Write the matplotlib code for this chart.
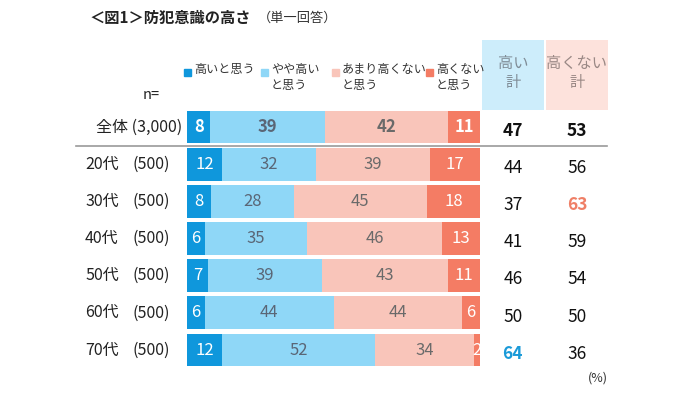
import matplotlib
matplotlib.use('Agg')
import matplotlib.pyplot as plt
from matplotlib.patches import Rectangle

plt.rcParams['font.family'] = ['Noto Sans CJK JP', 'DejaVu Sans']

groups = ['全体', '20代', '30代', '40代', '50代', '60代', '70代']
sizes = ['(3,000)', '(500)', '(500)', '(500)', '(500)', '(500)', '(500)']
very_high = [8, 12, 8, 6, 7, 6, 12]
rather_high = [39, 32, 28, 35, 39, 44, 52]
not_very_high = [42, 39, 45, 46, 43, 44, 34]
not_high = [11, 17, 18, 13, 11, 6, 2]
high_total = [47, 44, 37, 41, 46, 50, 64]
not_high_total = [53, 56, 63, 59, 54, 50, 36]
legend_labels = ['高いと思う', 'やや高い\nと思う', 'あまり高くない\nと思う', '高くない\nと思う']

colors = ['#0f97dc', '#8fd7f7', '#f9c5ba', '#f47c64']
text_colors = ['white', '#5a6676', '#6a6a6a', 'white']

fig = plt.figure(figsize=(7, 3.93), dpi=100)
ax = fig.add_axes([187 / 700, 1 - 368.6 / 393, 293 / 700, 260.2 / 393])
ax.set_xlim(0, 100)
ax.set_ylim(6.5, -0.5)
ax.axis('off')

series = [very_high, rather_high, not_very_high, not_high]
for i in range(len(groups)):
    total = sum(s[i] for s in series)
    left = 0
    for k, s in enumerate(series):
        w = s[i] * 100 / total
        bar = ax.barh(i, w, left=left, height=0.88, color=colors[k])[0]
        t = ax.text(left + w / 2, i, str(s[i]), ha='center', va='center',
                    fontsize=12, color=text_colors[k],
                    fontweight='bold' if i == 0 else 'normal')
        t.set_clip_path(bar)
        left += w

# row labels
ax.text(-1.5, 0, groups[0] + ' ' + sizes[0], ha='right', va='center', fontsize=11.5, color='#222222')
for i in range(1, len(groups)):
    ax.text(-34.8, i, groups[i], ha='left', va='center', fontsize=11.5, color='#222222')
    ax.text(-5.8, i, sizes[i], ha='right', va='center', fontsize=11.5, color='#222222')

# separator under 全体
ax.plot([-38, 143.5], [0.52, 0.52], color='#9a9a9a', lw=1.2, clip_on=False)

# header boxes
ax.add_patch(Rectangle((100.7, -2.35), 21.1, 1.88, color='#cdedfb', clip_on=False, lw=0))
ax.add_patch(Rectangle((122.5, -2.35), 21.2, 1.88, color='#fde2dc', clip_on=False, lw=0))
ax.text(111.2, -1.45, '高い\n計', ha='center', va='center', fontsize=11,
        color='#7f8c96', linespacing=1.1)
ax.text(133.1, -1.45, '高くない\n計', ha='center', va='center', fontsize=11,
        color='#9a8885', linespacing=1.1)

# totals
for i in range(len(groups)):
    c1, c2 = '#111111', '#111111'
    w1 = w2 = 'bold' if i == 0 else 'normal'
    if high_total[i] == max(high_total):
        c1, w1 = '#1a9ad8', 'bold'
    if not_high_total[i] == max(not_high_total):
        c2, w2 = '#ef7f66', 'bold'
    ax.text(111.2, i + 0.1, str(high_total[i]), ha='center', va='center',
            fontsize=12.5, color=c1, fontweight=w1)
    ax.text(133.1, i + 0.1, str(not_high_total[i]), ha='center', va='center',
            fontsize=12.5, color=c2, fontweight=w2)

# legend
leg_x = [184, 261, 332, 426]
for k, lab in enumerate(legend_labels):
    fig.add_artist(Rectangle((leg_x[k] / 700, 1 - 76 / 393), 7 / 700, 7 / 393,
                             color=colors[k], transform=fig.transFigure))
    fig.text((leg_x[k] + 10) / 700, 1 - 63 / 393, lab, ha='left', va='top',
             fontsize=8.7, color='#333333', linespacing=1.25)

fig.text(143 / 700, 1 - 95 / 393, 'n=', ha='left', va='center', fontsize=10.5, color='#222222')

# title
fig.text(89 / 700, 1 - 18 / 393, '＜図1＞防犯意識の高さ', ha='left', va='center',
         fontsize=11, fontweight='bold', color='#222222')
fig.text(258 / 700, 1 - 18 / 393, '（単一回答）', ha='left', va='center',
         fontsize=9.5, color='#333333')

fig.text(598 / 700, 1 - 378 / 393, '(%)', ha='center', va='center', fontsize=9, color='#333333')

fig.savefig('out.png', dpi=100)
